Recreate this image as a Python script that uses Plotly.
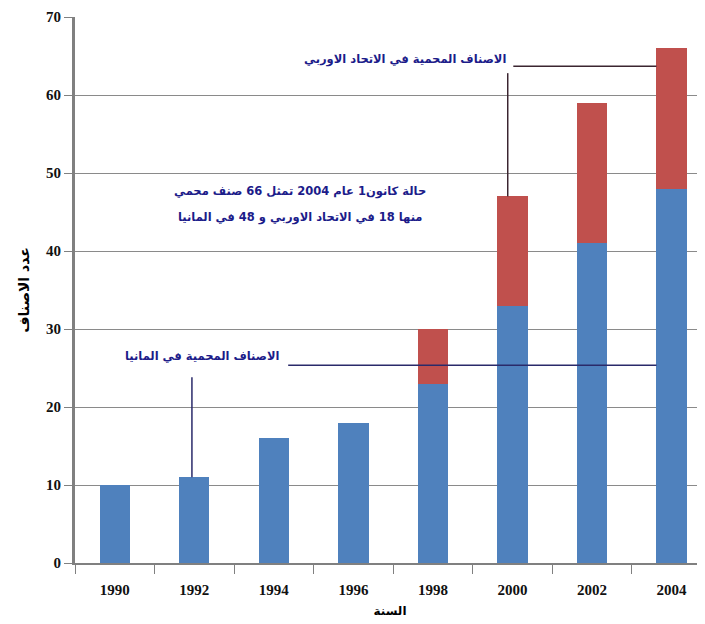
import plotly.graph_objects as go

years = ["1990", "1992", "1994", "1996", "1998", "2000", "2002", "2004"]
germany = [10, 11, 16, 18, 23, 33, 41, 48]
eu = [0, 0, 0, 0, 7, 14, 18, 18]

y_ticks = [0, 10, 20, 30, 40, 50, 60, 70]

label_eu = "الاصناف المحمية في الاتحاد الاوربي"
label_de = "الاصناف المحمية في المانيا"
note_1 = "حالة كانون1 عام 2004 تمثل 66 صنف محمي"
note_2 = "منها 18 في الاتحاد الاوربي و 48 في المانيا"
y_title = "عدد الاصناف"
x_title = "السنة"

blue = "#4f81bd"
red = "#c0504d"
navy = "#1c1c8a"

fig = go.Figure()
fig.add_trace(go.Bar(x=years, y=germany, marker=dict(color=blue, line=dict(width=0)),
                     width=0.38, name="germany"))
fig.add_trace(go.Bar(x=years, y=eu, marker=dict(color=red, line=dict(width=0)),
                     width=0.38, name="eu"))

serif = "Liberation Serif"
fig.update_layout(
    barmode="stack",
    width=705, height=624,
    margin=dict(l=67, r=8, t=9, b=69, autoexpand=False),
    paper_bgcolor="white", plot_bgcolor="white",
    showlegend=False,
    font=dict(family="DejaVu Sans", color="black"),
    xaxis=dict(type="category", range=[-0.5, 7.42], tickson="boundaries",
               ticks="outside", ticklen=9, tickcolor="#808080", tickwidth=1,
               showline=True, linecolor="#808080", linewidth=2,
               showgrid=False, ticklabelstandoff=12,
               tickfont=dict(family=serif, size=15, color="#111", weight="bold"),
               title=dict(text=x_title, font=dict(size=12, color="black", weight="bold"),
                          standoff=10)),
    yaxis=dict(range=[0, 70], tickvals=y_ticks, ticks="outside", ticklen=8,
               tickcolor="#808080", showline=True, linecolor="#808080", linewidth=3,
               showgrid=True, gridcolor="#8a8a8a", gridwidth=1,
               zeroline=False,
               tickfont=dict(family=serif, size=15, color="#111", weight="bold"),
               title=dict(text=y_title, font=dict(size=14, color="black", weight="bold"),
                          standoff=14)),
)

# annotation lines
eu_line = "#3b2530"
de_line = "#2a2a6a"
fig.add_shape(type="line", xref="x", yref="y", x0=5.01, x1=6.81, y0=63.7, y1=63.7,
              line=dict(color=eu_line, width=1.5))
fig.add_shape(type="line", xref="x", yref="y", x0=4.94, x1=4.94, y0=62.8, y1=47,
              line=dict(color=eu_line, width=1.5))
fig.add_shape(type="line", xref="x", yref="y", x0=2.18, x1=6.81, y0=25.35, y1=25.35,
              line=dict(color=de_line, width=1.5))
fig.add_shape(type="line", xref="x", yref="y", x0=0.97, x1=0.97, y0=23.8, y1=11,
              line=dict(color=de_line, width=1.5))

ann_font = dict(family="DejaVu Sans", size=11.5, color=navy, weight="bold")
fig.add_annotation(x=3.65, y=64.6, xref="x", yref="y", text=label_eu,
                   showarrow=False, font=ann_font)
fig.add_annotation(x=2.33, y=47.6, xref="x", yref="y", text=note_1,
                   showarrow=False, font=ann_font)
fig.add_annotation(x=2.33, y=44.3, xref="x", yref="y", text=note_2,
                   showarrow=False, font=ann_font)
fig.add_annotation(x=1.1, y=26.5, xref="x", yref="y", text=label_de,
                   showarrow=False, font=ann_font)

fig.write_html("out.html")
